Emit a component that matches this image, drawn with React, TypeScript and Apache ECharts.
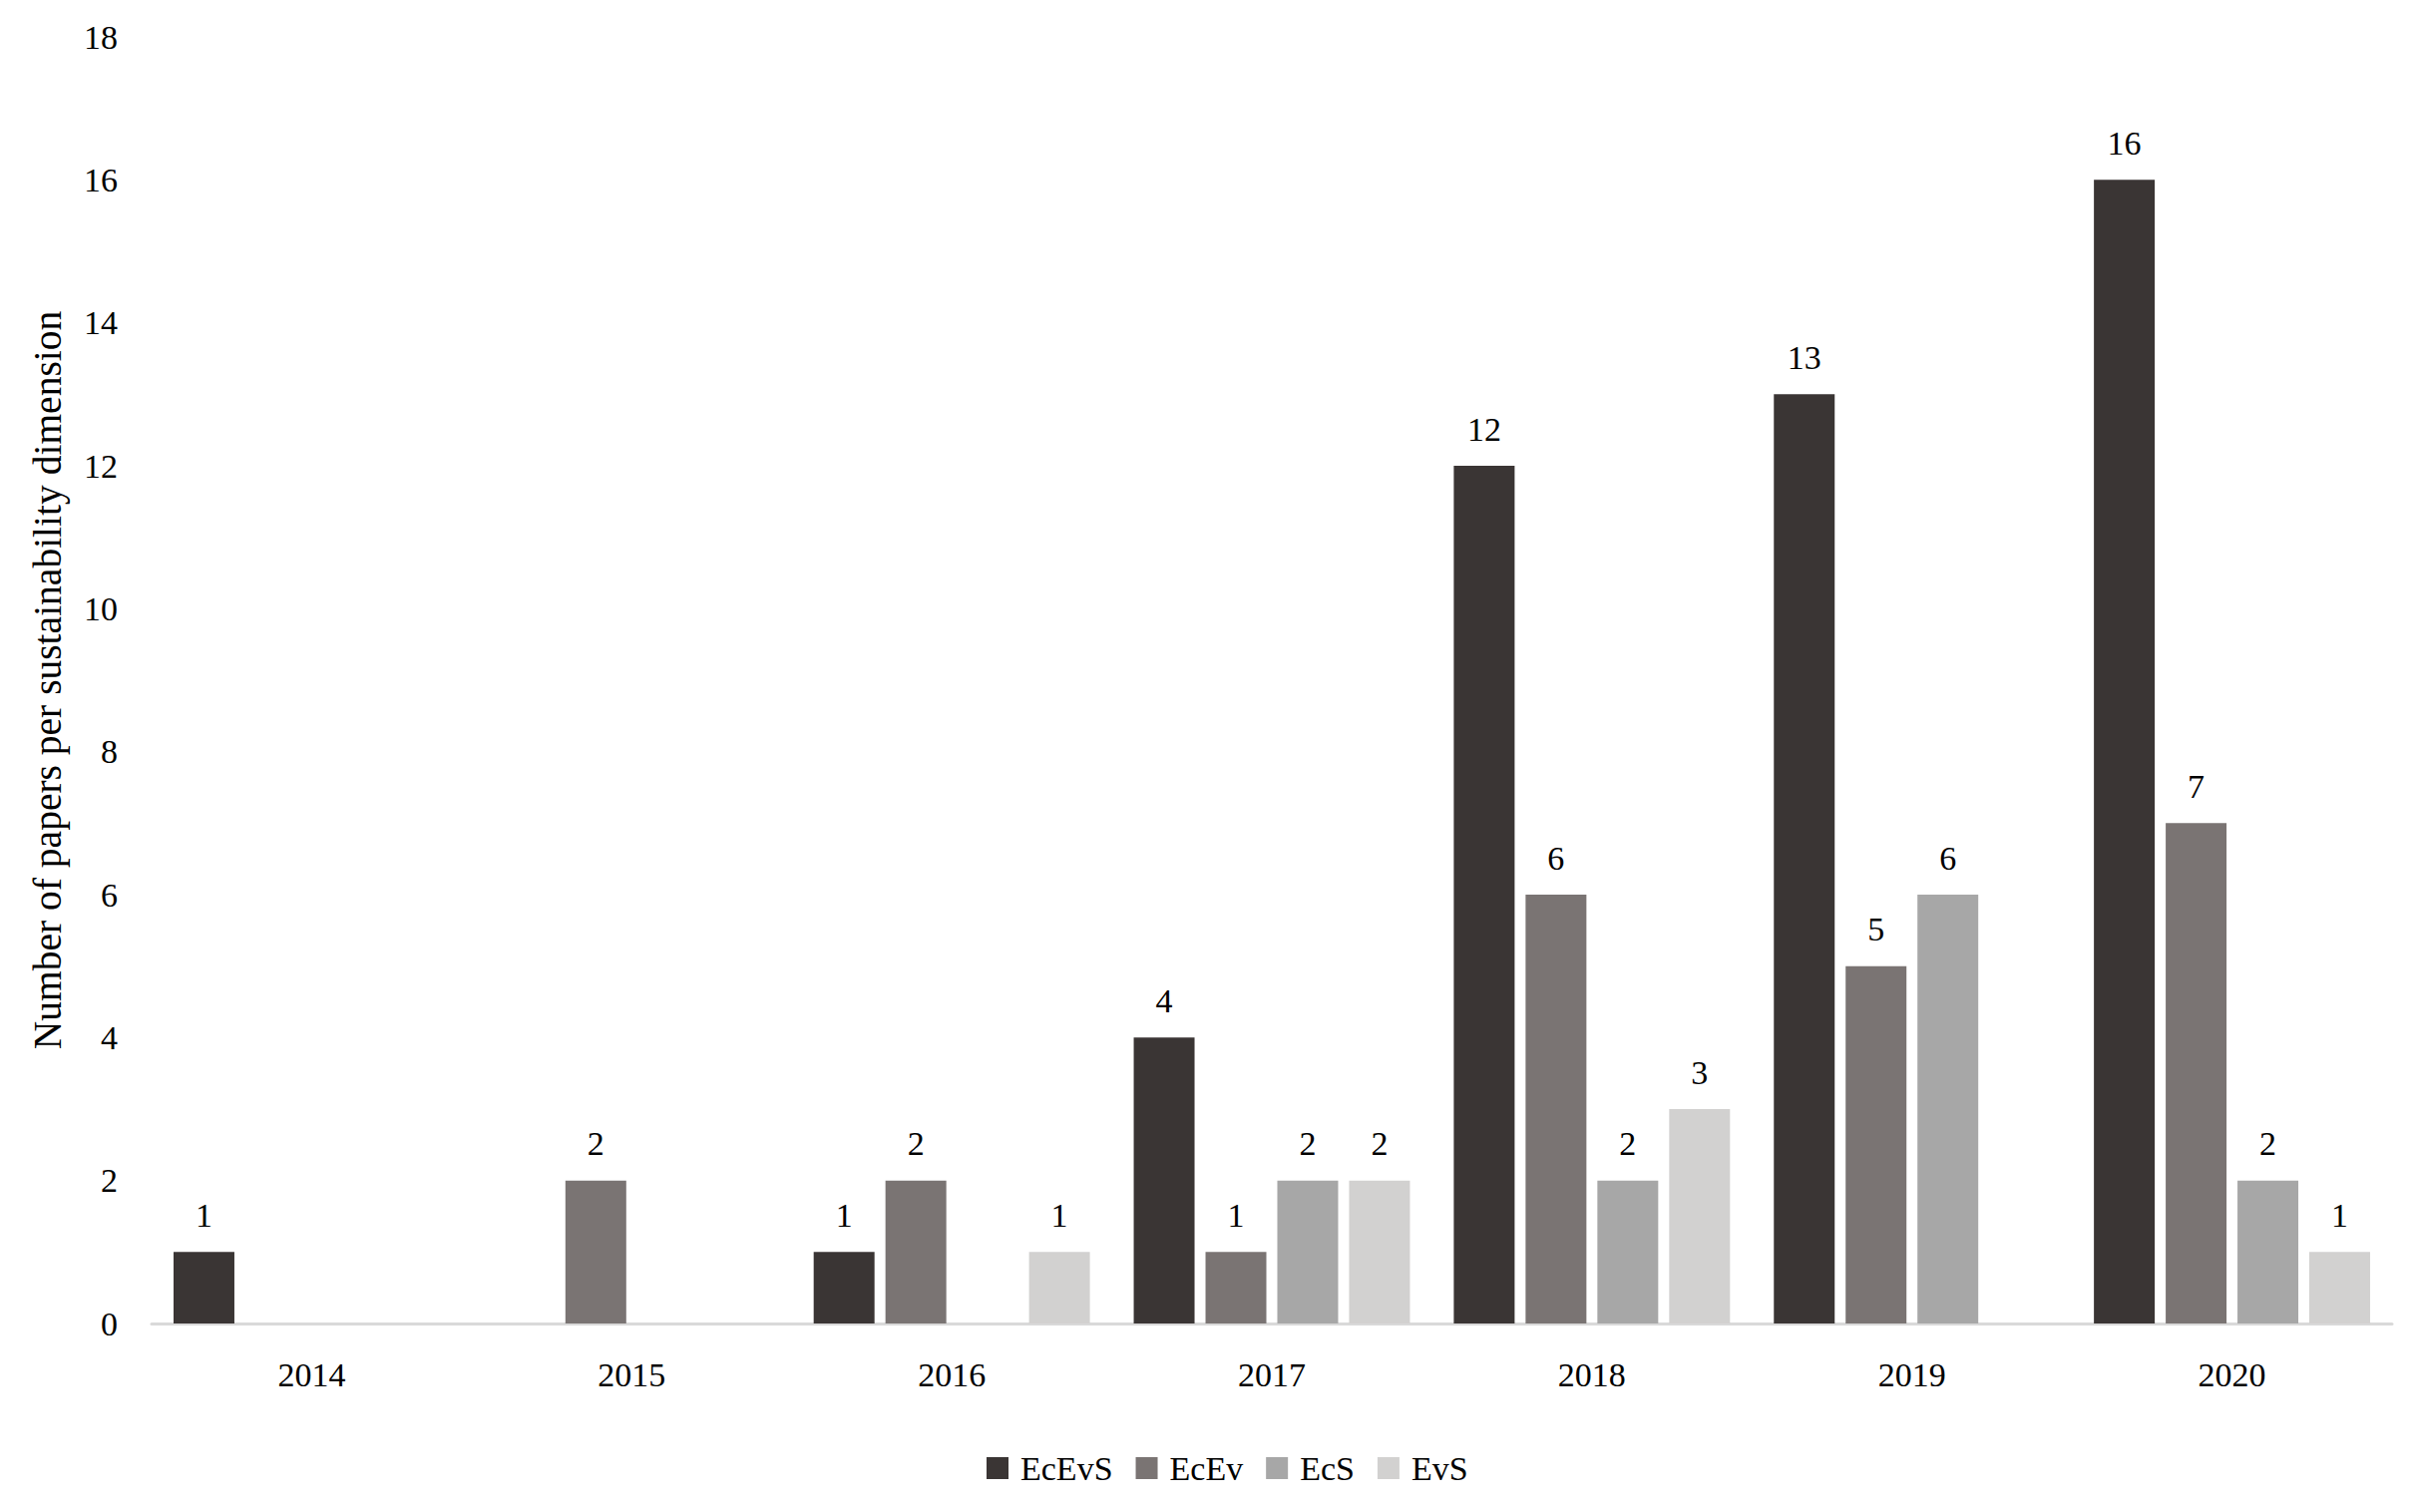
import React, { useEffect, useRef } from "react";
import * as echarts from "echarts";

const years = ["2014", "2015", "2016", "2017", "2018", "2019", "2020"];
const seriesNames = ["EcEvS", "EcEv", "EcS", "EvS"];
const ecEvS = [1, 0, 1, 4, 12, 13, 16];
const ecEv = [0, 2, 2, 1, 6, 5, 7];
const ecS = [0, 0, 0, 2, 2, 6, 2];
const evS = [0, 0, 1, 2, 3, 0, 1];
const colors = ["#3a3534", "#7a7473", "#a7a7a7", "#d2d1d0"];
const yTitle = "Number of papers per sustainability dimension";

const FONT = "'Liberation Serif', 'Times New Roman', serif";

export default function App() {
  const ref = useRef<HTMLDivElement>(null);
  useEffect(() => {
    document.body.style.margin = "0";
    if (!ref.current) return;
    const chart = echarts.init(ref.current, null, { renderer: "svg" });
    const values = [ecEvS, ecEv, ecS, evS];
    chart.setOption({
      animation: false,
      backgroundColor: "#ffffff",
      textStyle: { fontFamily: FONT, color: "#000" },
      grid: {
        left: 152,
        right: 17,
        top: 37,
        bottom: 189,
        containLabel: false,
        outerBoundsMode: "none",
      },
      legend: {
        top: 1450,
        left: 984,
        itemWidth: 22,
        itemHeight: 22,
        itemGap: 23,
        icon: "rect",
        textStyle: { fontFamily: FONT, fontSize: 34, color: "#000", padding: [0, 0, 0, 7] },
        data: seriesNames,
      },
      xAxis: {
        type: "category",
        data: years,
        axisLine: { show: true, lineStyle: { color: "#d9d9d9", width: 3 } },
        axisTick: { show: false },
        axisLabel: { fontFamily: FONT, fontSize: 34, color: "#000", margin: 34 },
      },
      yAxis: {
        type: "value",
        min: 0,
        max: 18,
        interval: 2,
        name: yTitle,
        nameLocation: "middle",
        nameGap: 84,
        nameTextStyle: { fontFamily: FONT, fontSize: 39.5, color: "#000" },
        axisLine: { show: false },
        axisTick: { show: false },
        splitLine: { show: false },
        axisLabel: { fontFamily: FONT, fontSize: 34, color: "#000", margin: 34 },
      },
      series: seriesNames.map((name, i) => ({
        name,
        type: "bar",
        data: values[i],
        barGap: "18%",
        barCategoryGap: "13.7%",
        itemStyle: { color: colors[i] },
        label: {
          show: true,
          position: "top",
          distance: 20,
          fontFamily: FONT,
          fontSize: 34,
          color: "#000",
          formatter: (p: any) => (p.value === 0 ? "" : String(p.value)),
        },
      })),
    });
    return () => chart.dispose();
  }, []);
  return (
    <div
      ref={ref}
      style={{ position: "fixed", left: 0, top: 0, width: 2415, height: 1516 }}
    />
  );
}
